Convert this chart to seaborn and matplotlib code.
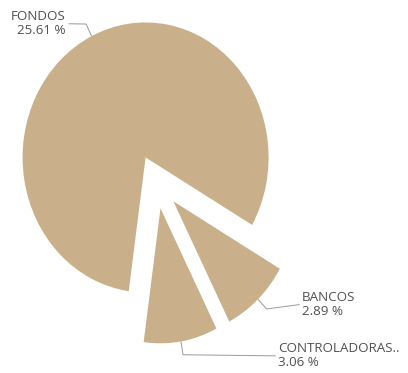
import numpy as np
import seaborn as sns
import matplotlib.pyplot as plt

# data
labels = ['FONDOS', 'CONTROLADORAS..', 'BANCOS']
values = [25.61, 3.06, 2.89]
explode = [0.2, 0.2, 0.2]

# label anchor (data units) and alignment for each slice
label_pos = [(-0.735, 1.17), (0.99, -1.29), (1.185, -0.91)]
label_ha = ['right', 'left', 'left']

sns.set_theme(style='white')
plt.rcParams['font.family'] = ['Open Sans', 'DejaVu Sans']

slice_color = '#c9b08b'
text_color = '#505050'
line_color = '#9a9a9a'

fig = plt.figure(figsize=(4.08, 3.73), dpi=100)
ax = fig.add_axes([0, 0, 1, 1])

wedges, _ = ax.pie(values, explode=explode, startangle=-30, counterclock=True,
                   colors=[slice_color] * len(values), radius=1,
                   wedgeprops=dict(linewidth=0))

# the reference is a little stretched vertically
ax.set_aspect('auto')
ax.set_xlim(-156.4 / 123, (408 - 156.4) / 123)
ax.set_ylim(-(373 - 181.7) / 135, 181.7 / 135)
ax.axis('off')

for w, lab, val, (tx, ty), ha in zip(wedges, labels, values, label_pos, label_ha):
    mid = np.deg2rad((w.theta1 + w.theta2) / 2)
    cx, cy = w.center
    edge = (cx + w.r * np.cos(mid), cy + w.r * np.sin(mid))
    elbow = (cx + 1.1 * w.r * np.cos(mid), cy + 1.1 * w.r * np.sin(mid))
    gap = 0.02 if ha == 'left' else -0.02
    end = (tx - gap, ty)
    ax.plot([edge[0], elbow[0], end[0]], [edge[1], elbow[1], end[1]],
            color=line_color, lw=0.7, solid_capstyle='butt')
    ax.text(tx, ty, f'{lab}\n{val:.2f} %', ha=ha, va='center',
            multialignment=ha, fontsize=9.6, color=text_color, linespacing=1.1)

plt.savefig('out.png', dpi=100)
